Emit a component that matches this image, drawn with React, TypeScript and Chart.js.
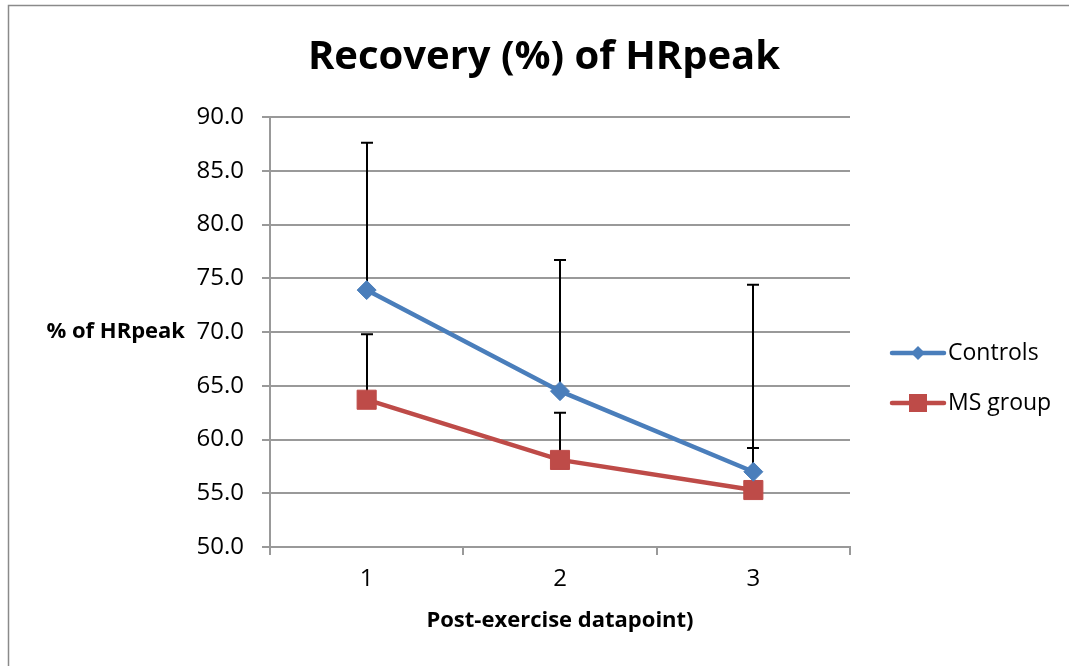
import React, { useEffect, useRef } from "react";
import { Chart, registerables } from "chart.js";

Chart.register(...registerables);

const categories = ["1", "2", "3"];
const controlsValues = [73.9, 64.5, 57.0];
const controlsErrors = [13.7, 12.2, 17.4];
const msValues = [63.7, 58.1, 55.3];
const msErrors = [6.1, 4.4, 3.9];
const seriesNames = ["Controls", "MS group"];
const titleText = "Recovery (%) of HRpeak";
const xTitleText = "Post-exercise datapoint)";
const yTitleText = "% of HRpeak";

const BLUE = "#4A7EBB";
const RED = "#BE4B48";
const FONT = "'Open Sans', 'Noto Sans', sans-serif";

const errorsBySeries = [controlsErrors, msErrors];

const overlayPlugin = {
  id: "overlay",
  beforeDraw(chart: any) {
    const ctx = chart.ctx;
    ctx.save();
    ctx.fillStyle = "#fff";
    ctx.fillRect(0, 0, chart.width, chart.height);
    ctx.strokeStyle = "#8a8a8a";
    ctx.lineWidth = 1.5;
    ctx.beginPath();
    ctx.moveTo(8.5, chart.height + 2);
    ctx.lineTo(8.5, 5.5);
    ctx.lineTo(chart.width + 2, 5.5);
    ctx.stroke();
    ctx.restore();
  },
  beforeDatasetsDraw(chart: any) {
    const ctx = chart.ctx;
    ctx.save();
    ctx.strokeStyle = "#000";
    ctx.lineWidth = 2;
    chart.data.datasets.forEach((ds: any, di: number) => {
      const meta = chart.getDatasetMeta(di);
      const yScale = chart.scales.y;
      meta.data.forEach((pt: any, i: number) => {
        const v = ds.data[i];
        const top = yScale.getPixelForValue(v + errorsBySeries[di][i]);
        const x = Math.round(pt.x);
        ctx.beginPath();
        ctx.moveTo(x, pt.y);
        ctx.lineTo(x, top);
        ctx.moveTo(x - 6, top);
        ctx.lineTo(x + 6, top);
        ctx.stroke();
      });
    });
    ctx.restore();
  },
  afterDraw(chart: any) {
    const ctx = chart.ctx;
    const area = chart.chartArea;
    ctx.save();
    ctx.fillStyle = "#000";
    // Title
    ctx.font = `bold 40px ${FONT}`;
    ctx.textAlign = "center";
    ctx.textBaseline = "middle";
    ctx.fillText(titleText, 544, 58);
    // x title
    ctx.font = `bold 22px ${FONT}`;
    ctx.fillText(xTitleText, (area.left + area.right) / 2, 621);
    // y title
    ctx.font = `bold 22px ${FONT}`;
    ctx.textAlign = "right";
    ctx.fillText(yTitleText, 185, chart.scales.y.getPixelForValue(70));
    // legend
    const colors = [BLUE, RED];
    const ys = [353, 403];
    seriesNames.forEach((name, i) => {
      const y = ys[i];
      ctx.strokeStyle = colors[i];
      ctx.lineWidth = 4.5;
      ctx.lineCap = "round";
      ctx.beginPath();
      ctx.moveTo(892, y);
      ctx.lineTo(944, y);
      ctx.stroke();
      ctx.fillStyle = colors[i];
      const cx = 918;
      if (i === 0) {
        const r = 7;
        ctx.beginPath();
        ctx.moveTo(cx - r, y);
        ctx.lineTo(cx, y - r);
        ctx.lineTo(cx + r, y);
        ctx.lineTo(cx, y + r);
        ctx.closePath();
        ctx.fill();
      } else {
        ctx.fillRect(cx - 9, y - 9, 18, 18);
      }
      ctx.fillStyle = "#000";
      ctx.font = `23px ${FONT}`;
      ctx.textAlign = "left";
      ctx.fillText(name, 948, y);
    });
    ctx.restore();
  },
};

export default function App() {
  const canvasRef = useRef<HTMLCanvasElement | null>(null);

  useEffect(() => {
    const canvas = canvasRef.current;
    if (!canvas) return;
    const chart = new Chart(canvas, {
      type: "line",
      data: {
        labels: categories,
        datasets: [
          {
            label: seriesNames[0],
            data: controlsValues,
            borderColor: BLUE,
            backgroundColor: BLUE,
            borderWidth: 4.5,
            pointStyle: "rectRot",
            pointRadius: 9.5,
            pointBorderWidth: 1,
            pointBackgroundColor: BLUE,
            pointBorderColor: BLUE,
            tension: 0,
          },
          {
            label: seriesNames[1],
            data: msValues,
            borderColor: RED,
            backgroundColor: RED,
            borderWidth: 4.5,
            pointStyle: "rect",
            pointRadius: 13.5,
            pointBorderWidth: 1,
            pointBackgroundColor: RED,
            pointBorderColor: RED,
            tension: 0,
          },
        ],
      },
      options: {
        animation: false,
        responsive: false,
        layout: { padding: { left: 0, right: 219, top: 117, bottom: 0 } },
        plugins: {
          legend: { display: false },
          title: { display: false },
          tooltip: { enabled: false },
        },
        scales: {
          x: {
            type: "category",
            offset: true,
            grid: {
              offset: true,
              drawOnChartArea: false,
              drawTicks: true,
              tickLength: 8,
              color: "#999",
              lineWidth: 2,
            },
            border: { display: true, color: "#999", width: 2 },
            ticks: {
              color: "#000",
              font: { family: FONT, size: 24 },
              padding: 10,
              maxRotation: 0,
            },
            afterFit: (scale: any) => {
              scale.height = 119;
            },
          },
          y: {
            min: 50,
            max: 90,
            grid: {
              color: "#999",
              lineWidth: 2,
              drawTicks: true,
              tickLength: 8,
            },
            border: { display: true, color: "#999", width: 2 },
            ticks: {
              stepSize: 5,
              color: "#000",
              font: { family: FONT, size: 24 },
              padding: 18,
              callback: (v: any) => Number(v).toFixed(1),
            },
            afterFit: (scale: any) => {
              scale.width = 270;
            },
          },
        },
      },
      plugins: [overlayPlugin],
    } as any);
    return () => chart.destroy();
  }, []);

  return (
    <div style={{ position: "fixed", left: 0, top: 0, width: 1069, height: 666, background: "#fff", overflow: "hidden" }}>
      <canvas ref={canvasRef} width={1069} height={666} style={{ position: "absolute", left: 0, top: 0 }} />
    </div>
  );
}
